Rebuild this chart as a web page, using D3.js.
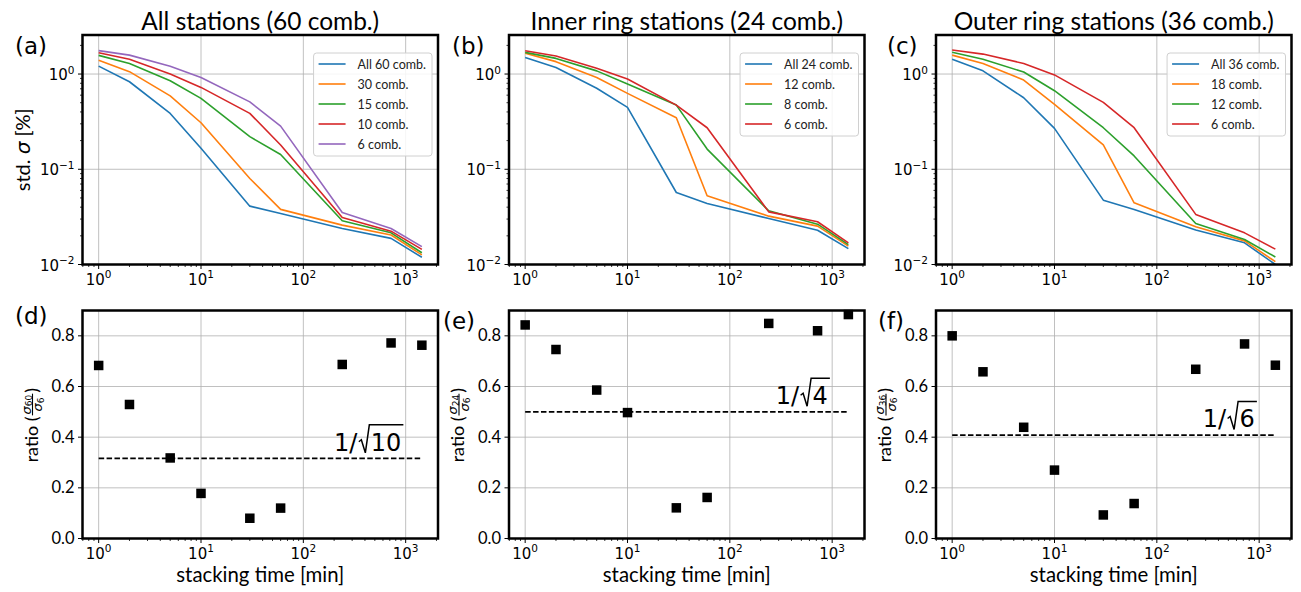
<!DOCTYPE html>
<html><head><meta charset="utf-8">
<script src="https://cdn.jsdelivr.net/npm/d3@7"></script>
<style>body{margin:0;background:#fff} svg{display:block}</style>
</head><body><svg id="c" width="1301" height="592"></svg>
<script>
// ---------- data ----------
const stackTimes = [1, 2, 5, 10, 30, 60, 240, 720, 1440];

const allAll60 = [1.21, 0.83, 0.386, 0.166, 0.041, 0.0344, 0.0239, 0.0188, 0.0119];
const all30    = [1.40, 1.06, 0.59, 0.308, 0.080, 0.0379, 0.0259, 0.0204, 0.0126];
const all15    = [1.57, 1.29, 0.85, 0.555, 0.22, 0.143, 0.0288, 0.0215, 0.0133];
const all10    = [1.67, 1.43, 1.0, 0.724, 0.386, 0.18, 0.0312, 0.0224, 0.0144];
const all6     = [1.76, 1.58, 1.21, 0.92, 0.51, 0.284, 0.0352, 0.0239, 0.0154];

const innerAll24 = [1.49, 1.17, 0.71, 0.447, 0.057, 0.0438, 0.0304, 0.0229, 0.0147];
const inner12    = [1.65, 1.35, 0.92, 0.627, 0.348, 0.0527, 0.0322, 0.0253, 0.0156];
const inner8     = [1.69, 1.46, 1.08, 0.785, 0.472, 0.163, 0.0366, 0.0265, 0.0162];
const inner6     = [1.76, 1.55, 1.15, 0.886, 0.472, 0.273, 0.0357, 0.0281, 0.0169];

const outerAll36 = [1.43, 1.08, 0.564, 0.269, 0.0474, 0.0379, 0.023, 0.0169, 0.0100];
const outer18    = [1.58, 1.29, 0.865, 0.48, 0.18, 0.0445, 0.0249, 0.0177, 0.0107];
const outer12    = [1.69, 1.43, 1.05, 0.668, 0.273, 0.138, 0.027, 0.0183, 0.012];
const outer6     = [1.79, 1.62, 1.29, 0.98, 0.504, 0.273, 0.0336, 0.0215, 0.0145];

const ratioAll   = [0.683, 0.529, 0.318, 0.178, 0.080, 0.12, 0.687, 0.772, 0.763];
const ratioInner = [0.843, 0.746, 0.586, 0.497, 0.121, 0.162, 0.849, 0.82, 0.884];
const ratioOuter = [0.80, 0.658, 0.439, 0.27, 0.093, 0.138, 0.668, 0.768, 0.684];

const refCombs = [10, 4, 6];           // dashed line at 1/sqrt(n)
const titles = ["All stations (60 comb.)", "Inner ring stations (24 comb.)", "Outer ring stations (36 comb.)"];
const legendAll   = ["All 60 comb.", "30 comb.", "15 comb.", "10 comb.", "6 comb."];
const legendInner = ["All 24 comb.", "12 comb.", "8 comb.", "6 comb."];
const legendOuter = ["All 36 comb.", "18 comb.", "12 comb.", "6 comb."];
const topLetters = ["(a)", "(b)", "(c)"];
const botLetters = ["(d)", "(e)", "(f)"];
const ratioSubs = ["60", "24", "36"];
const xTickExps = [0, 1, 2, 3];
const yTickExps = [0, -1, -2];
const ratioTicks = [0, 0.2, 0.4, 0.6, 0.8];
const xLabel = "stacking time [min]";

// ---------- layout / style ----------
const colors = ["#1f77b4", "#ff7f0e", "#2ca02c", "#d62728", "#9467bd"];
const FONT = "Lato, 'Open Sans', sans-serif";
const MATH = "'DejaVu Sans', sans-serif";
const lefts = [82.5, 509, 936];
const W = 355.5;
const topT = 35, topB = 264.5, botT = 310.5, botB = 538.5;
const xDomain = [Math.pow(10, -0.158), Math.pow(10, 3.316)];
const yLogDomain = [0.01, Math.pow(10, 0.41)];
const GRID = "#b0b0b0";

const svg = d3.select("#c");

const panels = [
  {series: [allAll60, all30, all15, all10, all6], names: legendAll, ratio: ratioAll},
  {series: [innerAll24, inner12, inner8, inner6], names: legendInner, ratio: ratioInner},
  {series: [outerAll36, outer18, outer12, outer6], names: legendOuter, ratio: ratioOuter}
];

function logMinor(domain) {
  const out = [];
  for (let e = -3; e <= 4; e++) for (let m = 2; m <= 9; m++) {
    const v = m * Math.pow(10, e);
    if (v >= domain[0] && v <= domain[1]) out.push(v);
  }
  return out;
}

function powLabel(sel, exp) {
  sel.append("tspan").text("10");
  sel.append("tspan").attr("font-size", 10.5).attr("dy", -6.5)
    .text(exp < 0 ? "\u2212" + (-exp) : String(exp));
}

function drawXLog(g, x, yBase) {
  const major = xTickExps.map(e => Math.pow(10, e));
  g.selectAll(null).data(logMinor(xDomain)).join("line")
    .attr("x1", d => x(d)).attr("x2", d => x(d)).attr("y1", yBase).attr("y2", yBase + 2.5)
    .attr("stroke", "#000").attr("stroke-width", 0.8);
  g.selectAll(null).data(major).join("line")
    .attr("x1", d => x(d)).attr("x2", d => x(d)).attr("y1", yBase).attr("y2", yBase + 4.5)
    .attr("stroke", "#000").attr("stroke-width", 1);
  major.forEach((d, i) => {
    const t = g.append("text").attr("x", x(d)).attr("y", yBase + 20).attr("text-anchor", "middle")
      .attr("font-family", MATH).attr("font-size", 15).attr("fill", "#000");
    powLabel(t, xTickExps[i]);
  });
}

panels.forEach((p, i) => {
  const L = lefts[i], R = L + W;
  const x = d3.scaleLog().domain(xDomain).range([L, R]);
  const yT = d3.scaleLog().domain(yLogDomain).range([topB, topT]);
  const yB = d3.scaleLinear().domain([0, 0.9]).range([botB, botT]);

  // ===== top panel =====
  const gT = svg.append("g");
  gT.selectAll(null).data(xTickExps.map(e => Math.pow(10, e))).join("line")
    .attr("x1", d => x(d)).attr("x2", d => x(d)).attr("y1", topT).attr("y2", topB)
    .attr("stroke", GRID).attr("stroke-width", 0.8);
  gT.selectAll(null).data(yTickExps.map(e => Math.pow(10, e))).join("line")
    .attr("x1", L).attr("x2", R).attr("y1", d => yT(d)).attr("y2", d => yT(d))
    .attr("stroke", GRID).attr("stroke-width", 0.8);

  const line = d3.line().x((d, j) => x(stackTimes[j])).y(d => yT(d));
  p.series.forEach((s, k) => {
    gT.append("path").attr("d", line(s)).attr("fill", "none")
      .attr("stroke", colors[k]).attr("stroke-width", 1.6).attr("stroke-linejoin", "round");
  });

  // y ticks (log)
  gT.selectAll(null).data(logMinor(yLogDomain)).join("line")
    .attr("x1", L).attr("x2", L - 2.5).attr("y1", d => yT(d)).attr("y2", d => yT(d))
    .attr("stroke", "#000").attr("stroke-width", 0.8);
  yTickExps.forEach(e => {
    const v = Math.pow(10, e);
    gT.append("line").attr("x1", L).attr("x2", L - 4.5).attr("y1", yT(v)).attr("y2", yT(v))
      .attr("stroke", "#000").attr("stroke-width", 1);
    const t = gT.append("text").attr("x", L - 8).attr("y", yT(v) + 6).attr("text-anchor", "end")
      .attr("font-family", MATH).attr("font-size", 15);
    powLabel(t, e);
  });
  drawXLog(gT, x, topB);

  gT.append("rect").attr("x", L).attr("y", topT).attr("width", W).attr("height", topB - topT)
    .attr("fill", "none").attr("stroke", "#000").attr("stroke-width", 2.5);

  // legend
  const lg = gT.append("g");
  const texts = p.names.map((n, k) => lg.append("text").attr("font-family", FONT)
    .attr("font-size", 12.5).attr("fill", "#222").text(n));
  const tw = d3.max(texts, t => t.node().getComputedTextLength());
  const boxW = 5 + 27 + 12 + tw + 6, boxH = p.names.length * 20 + 3;
  const bx = R - 6 - boxW, by = topT + 18;
  lg.insert("rect", ":first-child").attr("x", bx).attr("y", by).attr("width", boxW).attr("height", boxH)
    .attr("rx", 3).attr("fill", "#fff").attr("fill-opacity", 0.85).attr("stroke", "#d0d0d0").attr("stroke-width", 1);
  texts.forEach((t, k) => {
    const cy = by + 11 + k * 20;
    lg.append("line").attr("x1", bx + 5).attr("x2", bx + 32).attr("y1", cy).attr("y2", cy)
      .attr("stroke", colors[k]).attr("stroke-width", 1.6);
    t.attr("x", bx + 44).attr("y", cy + 4.5);
  });

  // title
  svg.append("text").attr("class", "title").attr("x", (L + R) / 2).attr("y", 29.5)
    .attr("text-anchor", "middle").attr("font-family", FONT).attr("font-size", 22).text(titles[i]);

  // panel letters
  svg.append("text").attr("x", [15, 452, 887][i]).attr("y", 53.5).attr("font-family", MATH)
    .attr("font-size", 23).text(topLetters[i]);

  // ===== bottom panel =====
  const gB = svg.append("g");
  gB.selectAll(null).data(xTickExps.map(e => Math.pow(10, e))).join("line")
    .attr("x1", d => x(d)).attr("x2", d => x(d)).attr("y1", botT).attr("y2", botB)
    .attr("stroke", GRID).attr("stroke-width", 0.8);
  gB.selectAll(null).data(ratioTicks).join("line")
    .attr("x1", L).attr("x2", R).attr("y1", d => yB(d)).attr("y2", d => yB(d))
    .attr("stroke", GRID).attr("stroke-width", 0.8);

  const ref = 1 / Math.sqrt(refCombs[i]);
  gB.append("line").attr("x1", x(stackTimes[0])).attr("x2", x(stackTimes[stackTimes.length - 1]))
    .attr("y1", yB(ref)).attr("y2", yB(ref)).attr("stroke", "#000").attr("stroke-width", 1.6)
    .attr("stroke-dasharray", "5.5,2.4");

  const sq = 9.5;
  gB.selectAll(null).data(p.ratio).join("rect")
    .attr("x", (d, j) => x(stackTimes[j]) - sq / 2).attr("y", d => yB(d) - sq / 2)
    .attr("width", sq).attr("height", sq).attr("fill", "#000");

  // sqrt label
  const sg = gB.append("g");
  const base = yB(ref + 0.03);
  const t1 = sg.append("text").attr("x", 0).attr("y", base).attr("font-family", MATH).attr("font-size", 24).text("1/");
  const w1 = t1.node().getComputedTextLength();
  const s = w1 + 1.5;
  const t2 = sg.append("text").attr("x", s + 12).attr("y", base).attr("font-family", MATH).attr("font-size", 24).text(String(refCombs[i]));
  const w2 = t2.node().getComputedTextLength();
  const end = s + 12 + w2 + 2;
  sg.append("path").attr("d", `M${s},${base - 9} L${s + 2.5},${base - 11} L${s + 6.5},${base + 2} L${s + 10.5},${base - 26} L${end},${base - 26}`)
    .attr("fill", "none").attr("stroke", "#000").attr("stroke-width", 1.5).attr("stroke-linejoin", "miter");
  sg.attr("transform", `translate(${x(950) - end},0)`);

  // y ticks
  ratioTicks.forEach(v => {
    gB.append("line").attr("x1", L).attr("x2", L - 4.5).attr("y1", yB(v)).attr("y2", yB(v))
      .attr("stroke", "#000").attr("stroke-width", 1);
    gB.append("text").attr("x", L - 8).attr("y", yB(v) + 5.5).attr("text-anchor", "end")
      .attr("font-family", FONT).attr("font-size", 16.5).text(v.toFixed(1));
  });
  drawXLog(gB, x, botB);

  gB.append("rect").attr("x", L).attr("y", botT).attr("width", W).attr("height", botB - botT)
    .attr("fill", "none").attr("stroke", "#000").attr("stroke-width", 2.5);

  // x label
  svg.append("text").attr("class", "xlab").attr("x", (L + R) / 2).attr("y", 582)
    .attr("text-anchor", "middle").attr("font-family", FONT).attr("font-size", 17).text(xLabel);

  // ratio y label
  const rl = svg.append("g");
  const inner = rl.append("g");
  const ta = inner.append("text").attr("x", 0).attr("y", 0).attr("font-family", FONT).attr("font-size", 18).text("ratio (");
  const wa = ta.node().getComputedTextLength();
  const bar = -5;
  const num = inner.append("text").attr("y", bar - 2).attr("font-family", MATH).attr("font-size", 13);
  num.append("tspan").attr("font-style", "italic").text("\u03c3");
  num.append("tspan").attr("font-size", 9).attr("dy", 1.5).text(ratioSubs[i]);
  const den = inner.append("text").attr("y", bar + 9.5).attr("font-family", MATH).attr("font-size", 13);
  den.append("tspan").attr("font-style", "italic").text("\u03c3");
  den.append("tspan").attr("font-size", 9).attr("dy", 1.5).text("6");
  const wn = num.node().getComputedTextLength(), wd = den.node().getComputedTextLength();
  const fw = Math.max(wn, wd) + 2;
  const fx = wa + 1;
  num.attr("x", fx + (fw - wn) / 2);
  den.attr("x", fx + (fw - wd) / 2);
  inner.append("line").attr("x1", fx).attr("x2", fx + fw).attr("y1", bar).attr("y2", bar)
    .attr("stroke", "#000").attr("stroke-width", 1.1);
  inner.append("text").attr("x", fx + fw + 1).attr("y", 0).attr("font-family", FONT).attr("font-size", 18).text(")");
  const total = fx + fw + 1 + 6;
  inner.attr("transform", `translate(${-total / 2},0)`);
  rl.attr("transform", `translate(${L - 45},${(botT + botB) / 2}) rotate(-90)`);

  svg.append("text").attr("x", [15, 443, 878][i]).attr("y", [324, 329, 329][i]).attr("font-family", MATH)
    .attr("font-size", 23).text(botLetters[i]);
});

// top y label
const yl = svg.append("text").attr("class", "ylab").attr("transform", `translate(30,${(topT + topB) / 2}) rotate(-90)`)
  .attr("text-anchor", "middle").attr("font-family", FONT).attr("font-size", 18);
yl.append("tspan").text("std. ");
yl.append("tspan").attr("font-family", MATH).attr("font-style", "italic").text("\u03c3");
yl.append("tspan").text(" [%]");

// fit font sizes so text widths match the reference
(function () {
  const ts = svg.selectAll("text.title").nodes();
  const w = ts[0].getComputedTextLength();
  d3.selectAll(ts).attr("font-size", 22 * 238 / w);
  const xs = svg.selectAll("text.xlab").nodes();
  const wx = xs[0].getComputedTextLength();
  d3.selectAll(xs).attr("font-size", 17 * 168 / wx);
  const yn = svg.select("text.ylab").node();
  const wy = yn.getComputedTextLength();
  svg.select("text.ylab").attr("font-size", 18 * 83 / wy);
})();
</script>
</body></html>
